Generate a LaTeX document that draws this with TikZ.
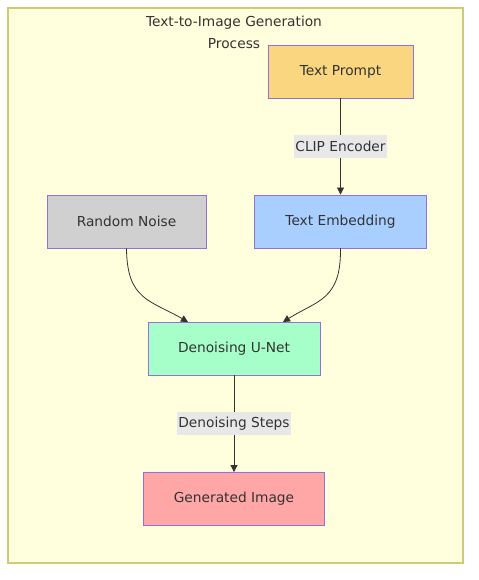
\documentclass[tikz,border=0pt]{standalone}
\usepackage{fontspec}
\setmainfont{DejaVu Sans}
\usetikzlibrary{arrows.meta}
\definecolor{clusterfill}{HTML}{FFFFDE}
\definecolor{clusterline}{HTML}{CCCC77}
\definecolor{nodeline}{HTML}{9370DB}
\definecolor{txt}{HTML}{333333}
\definecolor{promptfill}{HTML}{F9D67F}
\definecolor{embedfill}{HTML}{A8CFFF}
\definecolor{noisefill}{HTML}{D0D0D0}
\definecolor{unetfill}{HTML}{A6FFC8}
\definecolor{imagefill}{HTML}{FFA6A6}
\definecolor{labelfill}{HTML}{E8E8E8}
\tikzset{
  x=1bp, y=-1bp,
  every node/.style={font=\fontsize{13.8}{17}\selectfont, text=txt},
  box/.style={draw=nodeline, line width=0.9bp, minimum height=53bp, inner sep=0pt},
  edge/.style={draw=txt, line width=0.8bp, -{Triangle[length=7bp,width=7bp]}},
  elabel/.style={fill=labelfill, inner sep=1.5bp, minimum height=23bp},
}
\begin{document}
\begin{tikzpicture}
\useasboundingbox (0,0) rectangle (479,580);
\draw[fill=clusterfill, draw=clusterline, line width=1.2bp] (8,8) rectangle (463,563);
\node[align=center, inner sep=0pt] (title) at (234,32) {Text-to-Image Generation\\[5bp]Process};
\node[box, fill=promptfill, minimum width=145bp] (prompt) at (340.5,71.5) {Text Prompt};
\node[box, fill=embedfill, minimum width=172bp] (embed) at (340.5,221.5) {Text Embedding};
\node[box, fill=noisefill, minimum width=159bp] (noise) at (126.5,221.5) {Random Noise};
\node[box, fill=unetfill, minimum width=172bp] (unet) at (234,348.5) {Denoising U-Net};
\node[box, fill=imagefill, minimum width=181bp] (image) at (234,499) {Generated Image};
\coordinate (unetL) at (188,322);
\coordinate (unetR) at (283,322);
\draw[edge] (prompt) -- node[elabel] {CLIP Encoder} (embed);
\draw[edge] (noise.south) .. controls (127,300) and (150,300) .. (unetL);
\draw[edge] (embed.south) .. controls (341,300) and (318,300) .. (unetR);
\draw[edge] (unet) -- node[elabel] {Denoising Steps} (image);
\end{tikzpicture}
\end{document}
